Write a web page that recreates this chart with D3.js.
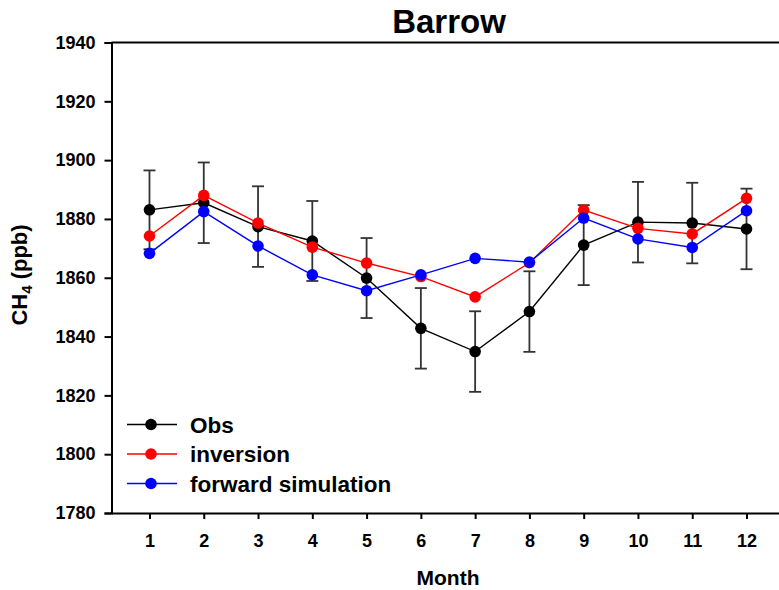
<!DOCTYPE html>
<html>
<head>
<meta charset="utf-8">
<script src="https://cdn.jsdelivr.net/npm/d3@7"></script>
<style>
  html, body { margin: 0; padding: 0; background: #fff; }
  svg { display: block; font-family: Arial, "Liberation Sans", sans-serif; }
</style>
</head>
<body>
<svg id="chart" width="779" height="590"></svg>
<script>
// Monthly CH4 at Barrow (ppb)
const months = [1, 2, 3, 4, 5, 6, 7, 8, 9, 10, 11, 12];
const obs = [1883.1, 1885.5, 1877.4, 1872.5, 1859.9, 1842.8, 1834.9, 1848.5, 1871.1, 1878.9, 1878.6, 1876.6];
const obsErr = [13.4, 13.7, 13.7, 13.6, 13.6, 13.7, 13.7, 13.7, 13.6, 13.7, 13.7, 13.7];
const inversion = [1874.2, 1888.0, 1878.6, 1870.4, 1865.0, 1860.4, 1853.5, 1865.1, 1883.0, 1876.8, 1874.9, 1887.0];
const forward = [1868.3, 1882.5, 1870.8, 1861.0, 1855.6, 1861.0, 1866.6, 1865.3, 1880.3, 1873.2, 1870.3, 1882.8];
const yTicks = [1780, 1800, 1820, 1840, 1860, 1880, 1900, 1920, 1940];
const seriesNames = ["Obs", "inversion", "forward simulation"];
const seriesColors = ["#000000", "#ff0000", "#0000ff"];

const svg = d3.select("#chart");

const x = d3.scaleLinear().domain([0.3, 12.7]).range([111.5, 784.5]);
const y = d3.scaleLinear().domain([1780, 1940]).range([513, 42.5]);

// Frame top line (right side falls outside the view)
svg.append("line")
  .attr("x1", x(0.3)).attr("x2", x(12.7))
  .attr("y1", y(1940)).attr("y2", y(1940))
  .attr("stroke", "#000").attr("stroke-width", 2);
svg.append("line")
  .attr("x1", x(12.7)).attr("x2", x(12.7))
  .attr("y1", y(1940)).attr("y2", y(1780))
  .attr("stroke", "#000").attr("stroke-width", 2);

// Y axis
const yAxis = svg.append("g")
  .attr("transform", `translate(${x(0.3)},0)`)
  .call(d3.axisLeft(y).tickValues(yTicks).tickSize(7).tickPadding(9).tickFormat(d3.format("d")));
yAxis.select(".domain").attr("stroke-width", 2);
yAxis.selectAll(".tick line").attr("stroke-width", 2);
yAxis.selectAll("text")
  .attr("font-size", 18).attr("font-weight", "bold")
  .attr("font-family", "Arial, 'Liberation Sans', sans-serif").attr("fill", "#000");

// X axis
const xAxis = svg.append("g")
  .attr("transform", `translate(0,${y(1780)})`)
  .call(d3.axisBottom(x).tickValues(months).tickSize(6).tickPadding(15).tickFormat(d3.format("d")).tickSizeOuter(0));
xAxis.select(".domain").attr("stroke-width", 2);
xAxis.selectAll(".tick line").attr("stroke-width", 2);
xAxis.selectAll("text")
  .attr("font-size", 18).attr("font-weight", "bold")
  .attr("font-family", "Arial, 'Liberation Sans', sans-serif").attr("fill", "#000");

// Title and axis labels
svg.append("text")
  .attr("x", 449).attr("y", 33)
  .attr("text-anchor", "middle")
  .attr("font-size", 33).attr("font-weight", "bold")
  .text("Barrow");

svg.append("text")
  .attr("x", 448).attr("y", 585)
  .attr("text-anchor", "middle")
  .attr("font-size", 21).attr("font-weight", "bold")
  .text("Month");

const yl = svg.append("text")
  .attr("transform", "translate(27,275) rotate(-90)")
  .attr("text-anchor", "middle")
  .attr("font-size", 22).attr("font-weight", "bold");
yl.append("tspan").text("CH");
yl.append("tspan").attr("font-size", 15).attr("dy", 5).text("4");
yl.append("tspan").attr("dy", -5).text(" (ppb)");

// Error bars on observations
const errG = svg.append("g");
months.forEach((m, i) => {
  const cx = x(m), top = y(obs[i] + obsErr[i]), bot = y(obs[i] - obsErr[i]);
  errG.append("line").attr("x1", cx).attr("x2", cx).attr("y1", top).attr("y2", bot)
    .attr("stroke", "#333").attr("stroke-width", 1.8);
  errG.append("line").attr("x1", cx - 6).attr("x2", cx + 6).attr("y1", top).attr("y2", top)
    .attr("stroke", "#333").attr("stroke-width", 1.8);
  errG.append("line").attr("x1", cx - 6).attr("x2", cx + 6).attr("y1", bot).attr("y2", bot)
    .attr("stroke", "#333").attr("stroke-width", 1.8);
});

// Series lines and markers
const line = d3.line().x((d, i) => x(months[i])).y(d => y(d));
[obs, inversion, forward].forEach((vals, k) => {
  const g = svg.append("g");
  g.append("path").datum(vals)
    .attr("d", line).attr("fill", "none")
    .attr("stroke", seriesColors[k]).attr("stroke-width", 1.4);
  g.selectAll("circle").data(vals).join("circle")
    .attr("cx", (d, i) => x(months[i])).attr("cy", d => y(d))
    .attr("r", 5.8).attr("fill", seriesColors[k]);
});

// Legend
const legend = svg.append("g");
seriesNames.forEach((name, k) => {
  const ly = 424.5 + k * 29.5;
  legend.append("line").attr("x1", 127).attr("x2", 177).attr("y1", ly).attr("y2", ly)
    .attr("stroke", seriesColors[k]).attr("stroke-width", 1.4);
  legend.append("circle").attr("cx", 151).attr("cy", ly).attr("r", 5.8).attr("fill", seriesColors[k]);
  legend.append("text").attr("x", 190).attr("y", ly + 8)
    .attr("font-size", 22.5).attr("font-weight", "bold").text(name);
});
</script>
</body>
</html>
